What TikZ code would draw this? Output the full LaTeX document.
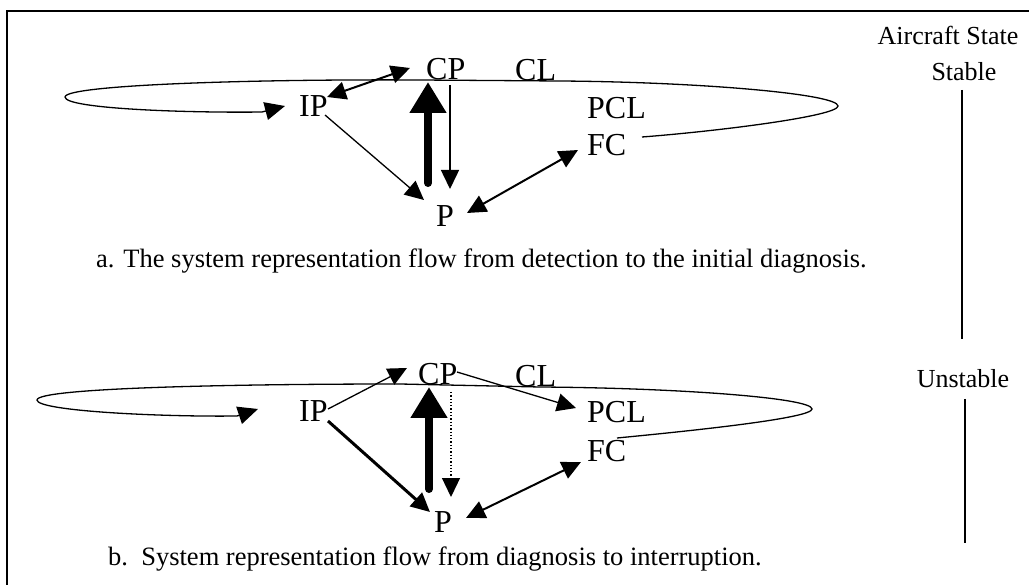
\documentclass[tikz,border=0pt]{standalone}
\usepackage{fontspec}
\setmainfont{Liberation Serif}
\usetikzlibrary{arrows.meta}
\begin{document}
\begin{tikzpicture}[x=1pt,y=-1pt,
  lbl/.style={inner sep=0pt,anchor=base west,font=\fontsize{32}{37}\selectfont},
  captxt/.style={inner sep=0pt,anchor=base west,font=\fontsize{26.5}{31}\selectfont},
  statetxt/.style={inner sep=0pt,anchor=base,font=\fontsize{26}{31}\selectfont},
  thinarr/.style={line width=1.3pt,-{Triangle[length=19pt,width=18pt]}},
  midarr/.style={line width=2pt,{Triangle[length=19pt,width=18pt]}-{Triangle[length=19pt,width=18pt]}},
  heavyarr/.style={line width=8pt,line cap=round,-{Triangle[length=31pt,width=35pt]}},
  loopline/.style={line width=1.3pt,-{Triangle[length=20pt,width=18pt]}}]
\useasboundingbox (0,0) rectangle (1029,585);
\draw[line width=1.5pt] (7,590) -- (7,11) -- (1035,11);
% right column
\node[statetxt] (as) at (948,45) {Aircraft State};
\node[statetxt] (st) at (964,81) {Stable};
\node[statetxt] (un) at (963,388) {Unstable};
\coordinate (v1a) at (962,90);
\coordinate (v1b) at (962,339);
\coordinate (v2a) at (965,399);
\coordinate (v2b) at (965,543);
\draw[line width=1.3pt] (v1a) -- (v1b);
\draw[line width=1.3pt] (v2a) -- (v2b);
% ---------- top diagram ----------
\node[lbl] (cp1) at (426,80) {CP};
\node[lbl] (cl1) at (515,81) {CL};
\node[lbl] (ip1) at (299,117) {IP};
\node[lbl] (pcl1) at (587,119) {PCL};
\node[lbl] (fc1) at (587,156) {FC};
\node[lbl] (p1) at (436,227) {P};
\node[captxt] (ca) at (96,268) {a. The system representation flow from detection to the initial diagnosis.};
\coordinate (l1s) at (642,137);
\coordinate (l1e) at (285,106);
\draw[loopline] (l1s) .. controls (720,131) and (838,116) .. (838,106)
  .. controls (838,94) and (700,82) .. (560,81) -- (420,80)
  .. controls (250,79) and (65,85) .. (65,97)
  .. controls (65,109) and (190,113) .. (262,112) -- (l1e);
\coordinate (a1) at (327,97);
\coordinate (a2) at (410,68);
\draw[midarr] (a1) -- (a2);
\coordinate (b1) at (325,115);
\coordinate (b2) at (424,200);
\draw[thinarr] (b1) -- (b2);
\coordinate (c1) at (450,85);
\coordinate (c2) at (450,189);
\draw[thinarr,line width=1.5pt] (c1) -- (c2);
\coordinate (d1) at (428,183);
\coordinate (d2) at (428,82);
\draw[heavyarr] (d1) -- (d2);
\coordinate (e1) at (467,213);
\coordinate (e2) at (578,150);
\draw[midarr] (e1) -- (e2);
% ---------- bottom diagram ----------
\node[lbl] (cp2) at (418,385) {CP};
\node[lbl] (cl2) at (515,387) {CL};
\node[lbl] (ip2) at (299,422) {IP};
\node[lbl] (pcl2) at (587,423) {PCL};
\node[lbl] (fc2) at (587,461) {FC};
\node[lbl] (p2) at (434,532) {P};
\node[captxt] (cb) at (108,565) {b.\ \ System representation flow from diagnosis to interruption.};
\coordinate (l2s) at (617,438);
\coordinate (l2e) at (258,409);
\draw[loopline] (l2s) .. controls (700,430) and (812,418) .. (812,409)
  .. controls (812,398) and (680,388) .. (540,387) -- (400,384)
  .. controls (230,384) and (37,388) .. (37,400)
  .. controls (37,411) and (160,417) .. (237,416) -- (l2e);
\coordinate (f1) at (328,409);
\coordinate (f2) at (407,368);
\draw[thinarr] (f1) -- (f2);
\coordinate (g1) at (457,372);
\coordinate (g2) at (576,408);
\draw[thinarr] (g1) -- (g2);
\coordinate (h1) at (328,421);
\coordinate (h2) at (430,512);
\draw[thinarr,line width=3pt] (h1) -- (h2);
\coordinate (i1) at (429,489);
\coordinate (i2) at (429,387);
\draw[heavyarr] (i1) -- (i2);
\coordinate (j1) at (451,392);
\coordinate (j2) at (451,497);
\draw[line width=1.3pt,dotted,-{Triangle[length=19pt,width=18pt]}] (j1) -- (j2);
\coordinate (k1) at (466,518);
\coordinate (k2) at (581,462);
\draw[midarr] (k1) -- (k2);
\end{tikzpicture}
\end{document}
